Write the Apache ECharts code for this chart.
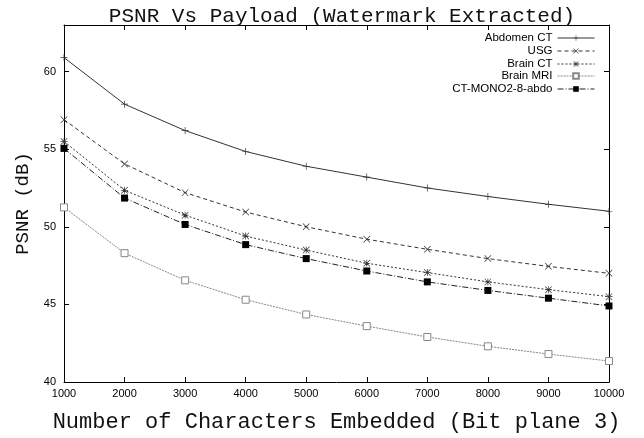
<!DOCTYPE html>
<html>
<head>
<meta charset="utf-8">
<script src="https://cdn.jsdelivr.net/npm/echarts@6/dist/echarts.min.js"></script>
<style>
  html, body { margin: 0; padding: 0; background: #fff; }
  #main { width: 644px; height: 438px; }
</style>
</head>
<body>
<div id="main"></div>
<script>
// characters embedded (x values)
var chars = [1000, 2000, 3000, 4000, 5000, 6000, 7000, 8000, 9000, 10000];
var seriesNames = ['Abdomen CT', 'USG', 'Brain CT', 'Brain MRI', 'CT-MONO2-8-abdo'];
var abdomenCT = [60.9, 57.9, 56.2, 54.85, 53.9, 53.2, 52.5, 51.95, 51.45, 51.0];
var usg = [56.9, 54.05, 52.2, 50.95, 50.0, 49.2, 48.55, 47.95, 47.45, 47.0];
var brainCT = [55.5, 52.35, 50.75, 49.4, 48.5, 47.65, 47.05, 46.45, 45.95, 45.5];
var brainMRI = [51.25, 48.3, 46.55, 45.3, 44.35, 43.6, 42.9, 42.3, 41.8, 41.35];
var ctMono = [55.05, 51.85, 50.15, 48.85, 47.95, 47.15, 46.45, 45.9, 45.4, 44.9];
var yTicks = [40, 45, 50, 55, 60];

// gnuplot-like point shapes (thin filled outlines)
var plusPath = 'path://M4.5,0H5.5V4.5H10V5.5H5.5V10H4.5V5.5H0V4.5H4.5Z';
var crossPath = 'path://M0,0.7L0.7,0L5,4.3L9.3,0L10,0.7L5.7,5L10,9.3L9.3,10L5,5.7L0.7,10L0,9.3L4.3,5Z';
var starPath = crossPath + ' M4.5,0H5.5V4.5H10V5.5H5.5V10H4.5V5.5H0V4.5H4.5Z';

function pairs(ys) {
    return chars.map(function (x, i) { return [x, ys[i]]; });
}

var chart = echarts.init(document.getElementById('main'));

var styles = [
    { data: abdomenCT, symbol: plusPath, size: 7, color: '#333', type: 'solid', fill: '#333', bw: 0 },
    { data: usg, symbol: crossPath, size: 7, color: '#333', type: [4, 3], fill: '#333', bw: 0 },
    { data: brainCT, symbol: starPath, size: 7, color: '#333', type: [2, 2], fill: '#333', bw: 0 },
    { data: brainMRI, symbol: 'rect', size: 7, color: '#888', type: [2, 1], fill: '#fff', bw: 1 },
    { data: ctMono, symbol: 'rect', size: 7, color: '#222', type: [6, 2, 1, 2], fill: '#000', bw: 0 }
];

var series = styles.map(function (s, i) {
    return {
        name: seriesNames[i],
        type: 'line',
        data: pairs(s.data),
        symbol: s.symbol,
        symbolSize: s.size,
        showAllSymbol: true,
        animation: false,
        lineStyle: { color: s.color, width: 1, type: s.type },
        itemStyle: { color: s.fill, borderColor: s.color, borderWidth: s.bw }
    };
});

// one legend per entry so the samples line up on the right
var legendTops = [32, 45, 58, 70, 83];
var legends = seriesNames.map(function (n, i) {
    return {
        data: [n],
        right: 49,
        top: legendTops[i],
        padding: 0,
        align: 'right',
        itemWidth: 37,
        itemHeight: 7,
        itemGap: 0,
        selectedMode: false,
        lineStyle: { width: 1 },
        textStyle: { fontFamily: 'Liberation Sans', fontSize: 11.5, color: '#000', padding: [0, 0, 0, 0] }
    };
});

var axisCommon = {
    axisLine: { show: true, lineStyle: { color: '#000', width: 1 } },
    axisTick: { show: true, inside: true, length: 5, lineStyle: { color: '#000' } },
    splitLine: { show: false }
};

var option = {
    backgroundColor: '#fff',
    animation: false,
    title: {
        text: 'PSNR Vs Payload (Watermark Extracted)',
        left: 337,
        top: 1,
        textAlign: 'center',
        textStyle: { fontFamily: 'Liberation Mono', fontSize: 21, fontWeight: 'normal', color: '#111' }
    },
    legend: legends,
    grid: { left: 64, right: 35, top: 25, bottom: 49, containLabel: false },
    xAxis: [
        Object.assign({
            type: 'value', min: 1000, max: 10000, interval: 1000, position: 'bottom',
            name: 'Number of Characters Embedded (Bit plane 3)',
            nameLocation: 'middle', nameGap: 29,
            nameTextStyle: { fontFamily: 'Liberation Mono', fontSize: 22, color: '#111' },
            axisLabel: {
                fontFamily: 'Liberation Sans', fontSize: 11, color: '#000', margin: 6,
                formatter: function (v) { return String(v); }
            }
        }, axisCommon),
        Object.assign({
            type: 'value', min: 1000, max: 10000, interval: 1000, position: 'top',
            axisLabel: { show: false }
        }, axisCommon)
    ],
    yAxis: [
        Object.assign({
            type: 'value', min: 40, max: 63, interval: 5, position: 'left',
            name: 'PSNR (dB)',
            nameLocation: 'middle', nameGap: 32,
            nameTextStyle: { fontFamily: 'Liberation Mono', fontSize: 19, color: '#111' },
            axisLabel: {
                fontFamily: 'Liberation Sans', fontSize: 11, color: '#000', margin: 8,
                showMaxLabel: false,
                formatter: function (v) { return yTicks.indexOf(v) >= 0 ? String(v) : ''; }
            }
        }, axisCommon),
        Object.assign({
            type: 'value', min: 40, max: 63, interval: 5, position: 'right',
            axisLabel: { show: false }
        }, axisCommon)
    ],
    series: series
};

chart.setOption(option);
</script>
</body>
</html>
